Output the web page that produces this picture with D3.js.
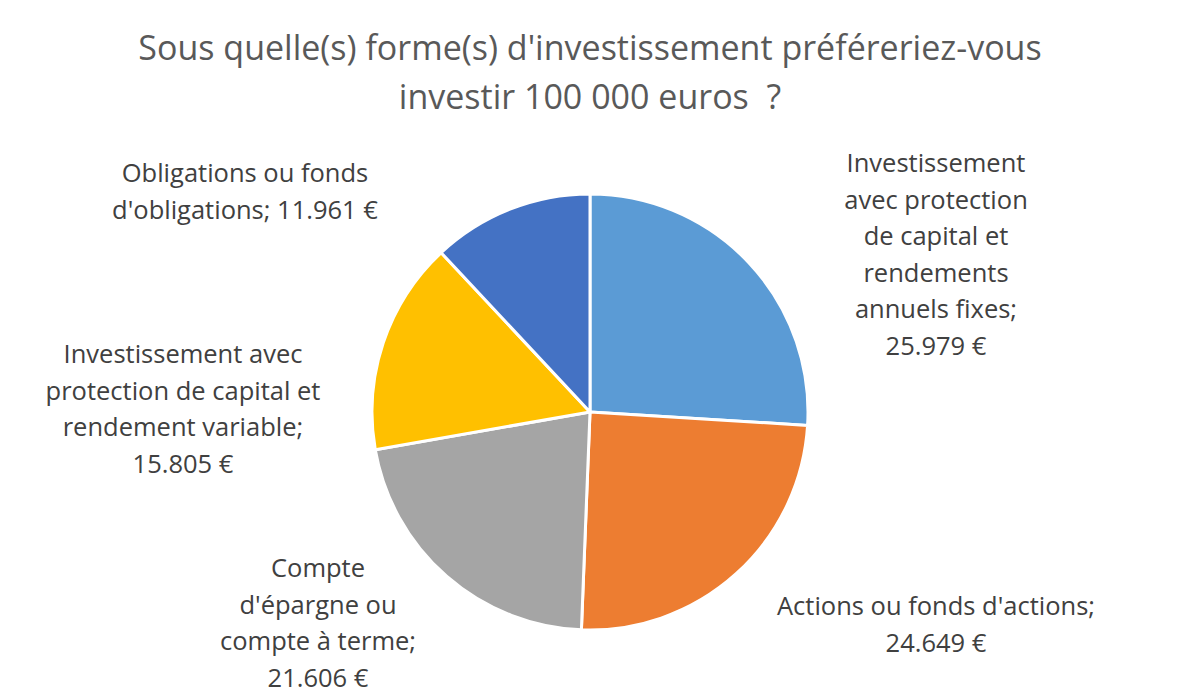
<!DOCTYPE html>
<html><head><meta charset="utf-8">
<script src="https://cdn.jsdelivr.net/npm/d3@7"></script>
<style>body{margin:0;background:#fff}svg{display:block}</style>
</head><body>
<svg id="chart" width="1181" height="698"></svg>
<script>
const categories = [
  "Investissement avec protection de capital et rendements annuels fixes",
  "Actions ou fonds d'actions",
  "Compte d'épargne ou compte à terme",
  "Investissement avec protection de capital et rendement variable",
  "Obligations ou fonds d'obligations"
];
const values = [25979, 24649, 21606, 15805, 11961];
const valueLabels = ["25.979 €", "24.649 €", "21.606 €", "15.805 €", "11.961 €"];
const labelLines = [
  ["Investissement", "avec protection", "de capital et", "rendements", "annuels fixes;", "25.979 €"],
  ["Actions ou fonds d'actions;", "24.649 €"],
  ["Compte", "d'épargne ou", "compte à terme;", "21.606 €"],
  ["Investissement avec", "protection de capital et", "rendement variable;", "15.805 €"],
  ["Obligations ou fonds", "d'obligations; 11.961 €"]
];
const colors = ["#5B9BD5", "#ED7D31", "#A5A5A5", "#FFC000", "#4472C4"];
const titleLines = ["Sous quelle(s) forme(s) d'investissement préféreriez-vous", "investir 100 000 euros\u00A0 ?"];

// layout
const cx = 590, cy = 412, R = 218;
const labelPos = [[936, 163], [936, 606], [318, 568], [183, 354], [245, 173]];
const lineH = 36.6;
const font = "'Open Sans', sans-serif";

const svg = d3.select("#chart");
svg.append("g").selectAll("text").data(titleLines).join("text")
  .attr("x", cx).attr("y", (d, i) => 48 + i * 49).attr("dy", "0.35em")
  .attr("text-anchor", "middle").attr("font-family", font).attr("font-size", 34)
  .attr("fill", "#595959").text(d => d);

const pie = d3.pie().sort(null).value(d => d);
const arc = d3.arc().innerRadius(0).outerRadius(R);
const g = svg.append("g").attr("transform", `translate(${cx},${cy})`);
g.selectAll("path").data(pie(values)).join("path")
  .attr("d", arc).attr("fill", (d, i) => colors[i])
  .attr("stroke", "#fff").attr("stroke-width", 3).attr("stroke-linejoin", "round");

const lg = svg.append("g");
labelLines.forEach((lines, i) => {
  lg.append("g").selectAll("text").data(lines).join("text")
    .attr("x", labelPos[i][0]).attr("y", (d, j) => labelPos[i][1] + j * lineH)
    .attr("dy", "0.35em").attr("text-anchor", "middle")
    .attr("font-family", font).attr("font-size", 25.5).attr("fill", "#404040")
    .text(d => d);
});
</script>
</body></html>
